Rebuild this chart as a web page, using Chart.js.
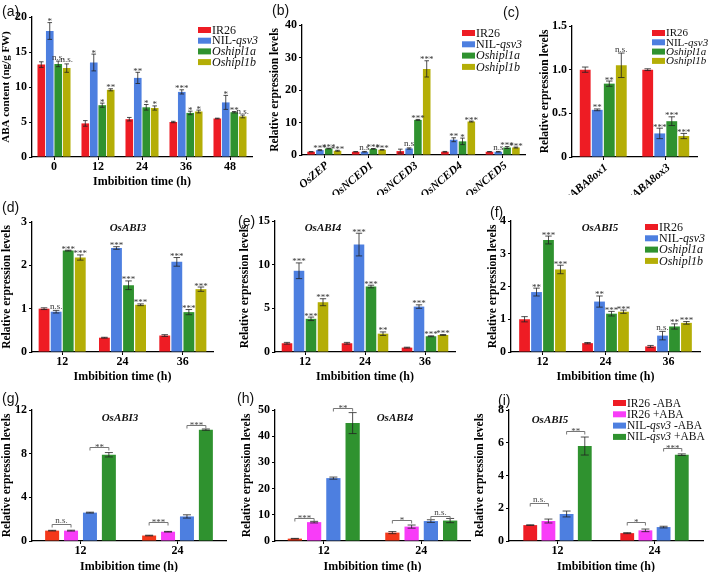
<!DOCTYPE html>
<html>
<head>
<meta charset="utf-8">
<script src="https://cdn.jsdelivr.net/npm/chart.js@4.4.1/dist/chart.umd.min.js"></script>
<style>
  body { margin: 0; background: #fff; }
  #fig { position: relative; width: 709px; height: 572px; overflow: hidden; background: #fff; }
  #fig canvas { position: absolute; left: 0; top: 0; }
  .lab { position: absolute; font: 14px/16px 'Liberation Sans', Arial, sans-serif; color: #111; }
</style>
</head>
<body>
<div id="fig">
  <canvas id="ca" width="709" height="572"></canvas>
  <canvas id="cb" width="709" height="572"></canvas>
  <canvas id="cc" width="709" height="572"></canvas>
  <canvas id="cd" width="709" height="572"></canvas>
  <canvas id="ce" width="709" height="572"></canvas>
  <canvas id="cf" width="709" height="572"></canvas>
  <canvas id="cg" width="709" height="572"></canvas>
  <canvas id="ch" width="709" height="572"></canvas>
  <canvas id="ci" width="709" height="572"></canvas>
  <div class="lab" style="left:2px;top:3px">(a)</div>
  <div class="lab" style="left:272px;top:2px">(b)</div>
  <div class="lab" style="left:503px;top:4px">(c)</div>
  <div class="lab" style="left:2px;top:199px">(d)</div>
  <div class="lab" style="left:238px;top:213px">(e)</div>
  <div class="lab" style="left:490px;top:204px">(f)</div>
  <div class="lab" style="left:2px;top:390px">(g)</div>
  <div class="lab" style="left:237px;top:390px">(h)</div>
  <div class="lab" style="left:498px;top:392px">(i)</div>
</div>
<script>
// ===== Данные =====
// (a) ABA content
const aTimes = ['0', '12', '24', '36', '48'];
const aIR26 = [13.2, 4.8, 5.4, 5.0, 5.5];
const aIR26Err = [0.4, 0.4, 0.25, 0.1, 0.05];
const aNIL = [18.0, 13.5, 11.3, 9.3, 7.8];
const aNILErr = [1.2, 1.2, 0.8, 0.3, 1.0];
const aNILSig = ['*', '*', '**', '***', '*'];
const aH1a = [13.3, 7.4, 7.1, 6.3, 6.4];
const aH1aErr = [0.4, 0.3, 0.4, 0.25, 0.1];
const aH1aSig = ['n.s.', '*', '*', '*', '**'];
const aH1b = [12.7, 9.6, 7.0, 6.5, 5.8];
const aH1bErr = [0.6, 0.15, 0.3, 0.2, 0.2];
const aH1bSig = ['n.s.', '**', '*', '*', 'n.s.'];

// (b) ABA synthesis genes
const bGenes = ['OsZEP', 'OsNCED1', 'OsNCED3', 'OsNCED4', 'OsNCED5'];
const bIR26 = [1.0, 1.0, 1.2, 1.0, 1.0];
const bIR26Err = [0.05, 0.05, 0.6, 0.1, 0.05];
const bNIL = [1.5, 1.0, 2.0, 4.7, 1.0];
const bNILErr = [0.15, 0.1, 0.2, 0.6, 0.1];
const bNILSig = ['***', 'n.s', 'n.s', '**', 'n.s'];
const bH1a = [2.0, 1.9, 10.8, 4.2, 2.3];
const bH1aErr = [0.1, 0.1, 0.15, 1.0, 0.3];
const bH1aSig = ['***', '***', '***', '*', '***'];
const bH1b = [1.3, 1.6, 26.5, 10.3, 2.3];
const bH1bErr = [0.15, 0.1, 2.5, 0.15, 0.15];
const bH1bSig = ['***', '***', '***', '***', '***'];

// (c) ABA catabolism genes
const cGenes = ['OsABA8ox1', 'OsABA8ox3'];
const cIR26 = [1.0, 1.0];
const cIR26Err = [0.03, 0.01];
const cNIL = [0.54, 0.27];
const cNILErr = [0.01, 0.06];
const cNILSig = ['**', '***'];
const cH1a = [0.84, 0.41];
const cH1aErr = [0.03, 0.05];
const cH1aSig = ['**', '***'];
const cH1b = [1.05, 0.24];
const cH1bErr = [0.14, 0.03];
const cH1bSig = ['n.s.', '***'];

// (d)-(f) OsABI3/4/5
const defTimes = ['12', '24', '36'];
const dIR26 = [1.0, 0.33, 0.38];
const dIR26Err = [0.02, 0.01, 0.02];
const dNIL = [0.93, 2.40, 2.08];
const dNILErr = [0.03, 0.03, 0.1];
const dNILSig = ['n.s.', '***', '***'];
const dH1a = [2.34, 1.54, 0.92];
const dH1aErr = [0.01, 0.1, 0.06];
const dH1aSig = ['***', '***', '***'];
const dH1b = [2.18, 1.09, 1.45];
const dH1bErr = [0.06, 0.02, 0.05];
const dH1bSig = ['***', '***', '***'];

const eIR26 = [1.0, 1.0, 0.5];
const eIR26Err = [0.1, 0.1, 0.05];
const eNIL = [9.3, 12.3, 5.2];
const eNILErr = [0.9, 1.3, 0.2];
const eNILSig = ['***', '***', '***'];
const eH1a = [3.8, 7.5, 1.8];
const eH1aErr = [0.2, 0.15, 0.05];
const eH1aSig = ['***', '***', '***'];
const eH1b = [5.7, 2.1, 1.95];
const eH1bErr = [0.4, 0.2, 0.05];
const eH1bSig = ['***', '**', '***'];

const fIR26 = [1.0, 0.27, 0.17];
const fIR26Err = [0.08, 0.02, 0.03];
const fNIL = [1.83, 1.54, 0.50];
const fNILErr = [0.12, 0.17, 0.13];
const fNILSig = ['**', '**', 'n.s.'];
const fH1a = [3.42, 1.17, 0.78];
const fH1aErr = [0.12, 0.07, 0.08];
const fH1aSig = ['***', '***', '**'];
const fH1b = [2.52, 1.23, 0.89];
const fH1bErr = [0.13, 0.05, 0.04];
const fH1bSig = ['***', '***', '***'];

// (g)-(i) обработка ABA
const ghiTimes = ['12', '24'];
const gIR26m = [0.95, 0.5];   const gIR26mErr = [0.03, 0.03];
const gIR26p = [0.95, 0.85];  const gIR26pErr = [0.04, 0.03];
const gNILm = [2.6, 2.25];    const gNILmErr = [0.04, 0.15];
const gNILp = [7.9, 10.2];    const gNILpErr = [0.2, 0.06];
const gBrLevel = [1.6, 8.6, 1.7, 10.6];
const gBrText = ['n.s.', '**', '***', '***'];

const hIR26m = [0.9, 3.2];    const hIR26mErr = [0.1, 0.4];
const hIR26p = [7.2, 5.5];    const hIR26pErr = [0.3, 0.6];
const hNILm = [24.0, 7.6];    const hNILmErr = [0.4, 0.5];
const hNILp = [45.0, 7.8];    const hNILpErr = [4.0, 0.8];
const hBrLevel = [8.8, 50.8, 8.0, 9.6];
const hBrText = ['***', '**', '*', 'n.s.'];

const iIR26m = [0.97, 0.48];  const iIR26mErr = [0.02, 0.03];
const iIR26p = [1.22, 0.65];  const iIR26pErr = [0.12, 0.08];
const iNILm = [1.65, 0.85];   const iNILmErr = [0.18, 0.05];
const iNILp = [5.8, 5.27];    const iNILpErr = [0.55, 0.05];
const iBrLevel = [2.3, 6.7, 1.15, 5.65];
const iBrText = ['n.s.', '**', '*', '***'];

// ===== Стиль =====
const W = 709, H = 572;
const SERIF = "'Liberation Serif', 'Times New Roman', serif";
const RED = '#ee1c24', BLUE = '#4d7fe0', GREEN = '#2f922f', OLIVE = '#b4ae06';
const MAGENTA = '#f83cf8', RED2 = '#f4381a';
const lineLabels = ['IR26', 'NIL-_qsv3_', '_Oshipl1a_', '_Oshipl1b_'];
const abaLabels = ['IR26 -ABA', 'IR26 +ABA', 'NIL-_qsv3_ -ABA', 'NIL-_qsv3_ +ABA'];

function bars(label, data, errors, sig, color) {
    return { label, data, errors, sig: sig || null, backgroundColor: color, borderWidth: 0 };
}

// ===== Плагины =====
// Планки погрешностей и значимость над столбцами
const errorBarPlugin = {
    id: 'errorBars',
    afterDatasetsDraw(chart) {
        const ctx = chart.ctx;
        const y = chart.scales.y;
        chart.data.datasets.forEach((ds, di) => {
            if (!ds.errors) return;
            const meta = chart.getDatasetMeta(di);
            meta.data.forEach((bar, i) => {
                const v = ds.data[i], e = ds.errors[i];
                const yTop = y.getPixelForValue(v + e);
                const yBot = y.getPixelForValue(Math.max(v - e, 0));
                const cap = Math.min(bar.width * 0.3, 4);
                ctx.save();
                ctx.strokeStyle = '#222';
                ctx.lineWidth = 0.8;
                ctx.beginPath();
                ctx.moveTo(bar.x, yTop); ctx.lineTo(bar.x, yBot);
                ctx.moveTo(bar.x - cap, yTop); ctx.lineTo(bar.x + cap, yTop);
                ctx.moveTo(bar.x - cap, yBot); ctx.lineTo(bar.x + cap, yBot);
                ctx.stroke();
                const s = ds.sig && ds.sig[i];
                if (s) {
                    ctx.fillStyle = '#333';
                    ctx.font = '9px ' + SERIF;
                    ctx.textAlign = 'center';
                    ctx.textBaseline = 'alphabetic';
                    ctx.fillText(s, bar.x, s.indexOf('*') >= 0 ? yTop + 1.5 : yTop - 1.5);
                }
                ctx.restore();
            });
        });
    }
};

// Текст с курсивом: части между "_" курсивом
function drawMixed(ctx, text, x, y, size) {
    const parts = text.split('_');
    parts.forEach((p, k) => {
        ctx.font = (k % 2 ? 'italic ' : '') + size + 'px ' + SERIF;
        ctx.fillText(p, x, y);
        x += ctx.measureText(p).width;
    });
}

function legendPlugin(lg) {
    return {
        id: 'figLegend',
        afterDraw(chart) {
            const ctx = chart.ctx;
            ctx.save();
            ctx.textBaseline = 'middle';
            ctx.textAlign = 'left';
            chart.data.datasets.forEach((ds, i) => {
                const yy = lg.y + i * lg.dy;
                ctx.fillStyle = ds.backgroundColor;
                ctx.fillRect(lg.x, yy - 3, 13, 6);
                ctx.fillStyle = '#111';
                drawMixed(ctx, lg.labels[i], lg.x + 14, yy + 0.5, lg.size);
            });
            ctx.restore();
        }
    };
}

function genePlugin(g) {
    return {
        id: 'geneTitle',
        afterDraw(chart) {
            const ctx = chart.ctx;
            ctx.save();
            ctx.fillStyle = '#111';
            ctx.font = 'italic bold 11px ' + SERIF;
            ctx.textAlign = 'center';
            ctx.textBaseline = 'middle';
            ctx.fillText(g.text, g.x, g.y);
            ctx.restore();
        }
    };
}

// Скобки сравнения: пары (0-1) и (2-3) в каждой группе
function bracketPlugin(levels, texts) {
    return {
        id: 'brackets',
        afterDatasetsDraw(chart) {
            const ctx = chart.ctx;
            const y = chart.scales.y;
            const n = chart.data.labels.length;
            ctx.save();
            for (let c = 0; c < n; c++) {
                [[0, 1], [2, 3]].forEach((pair, k) => {
                    const idx = c * 2 + k;
                    const x1 = chart.getDatasetMeta(pair[0]).data[c].x;
                    const x2 = chart.getDatasetMeta(pair[1]).data[c].x;
                    const yy = Math.round(y.getPixelForValue(levels[idx])) + 0.5;
                    ctx.strokeStyle = '#777';
                    ctx.lineWidth = 1;
                    ctx.beginPath();
                    ctx.moveTo(x1, yy + 3); ctx.lineTo(x1, yy); ctx.lineTo(x2, yy); ctx.lineTo(x2, yy + 3);
                    ctx.stroke();
                    const t = texts[idx];
                    ctx.fillStyle = '#444';
                    ctx.font = '9px ' + SERIF;
                    ctx.textAlign = 'center';
                    ctx.textBaseline = 'alphabetic';
                    ctx.fillText(t, (x1 + x2) / 2, t.indexOf('*') >= 0 ? yy + 2 : yy - 1.5);
                });
            }
            ctx.restore();
        }
    };
}

// ===== Построение панели =====
function makePanel(id, p) {
    const extra = [errorBarPlugin];
    if (p.legend) extra.push(legendPlugin(p.legend));
    if (p.gene) extra.push(genePlugin(p.gene));
    if (p.brLevels) extra.push(bracketPlugin(p.brLevels, p.brTexts));

    const tickFont = { family: SERIF, size: 12, weight: 'bold' };
    const xTickFont = p.rotate
        ? { family: SERIF, size: 11.5, weight: 'bold', style: 'italic' }
        : tickFont;

    return new Chart(document.getElementById(id), {
        type: 'bar',
        data: {
            labels: p.labels,
            datasets: p.datasets.map(ds => Object.assign({
                categoryPercentage: p.catPct,
                barPercentage: p.barPct
            }, ds))
        },
        options: {
            responsive: false,
            animation: false,
            events: [],
            layout: {
                padding: { left: p.L - p.yW, right: W - p.R, top: p.T, bottom: H - p.B - p.xH }
            },
            plugins: { legend: { display: false }, tooltip: { enabled: false } },
            scales: {
                x: {
                    offset: true,
                    ticks: {
                        font: xTickFont, color: '#000', padding: p.rotate ? 1 : 0, autoSkip: false,
                        minRotation: p.rotate || 0, maxRotation: p.rotate || 0,
                        labelOffset: p.rotate ? 3 : 0
                    },
                    grid: { offset: false, drawOnChartArea: false, tickLength: 3, color: '#000' },
                    border: { color: '#000', width: 1.3 },
                    title: {
                        display: !!p.xTitle, text: p.xTitle || '', color: '#000', padding: 0,
                        font: { family: SERIF, size: 12, weight: 'bold' }
                    },
                    afterFit: s => { s.height = p.xH; }
                },
                y: {
                    min: 0,
                    max: p.yMax,
                    ticks: {
                        stepSize: p.yStep, font: tickFont, color: '#000', padding: 2,
                        callback: p.yFmt || (v => v)
                    },
                    grid: { drawOnChartArea: false, tickLength: 3, color: '#000' },
                    border: { color: '#000', width: 1.3 },
                    title: {
                        display: true, text: p.yTitle, color: '#000', padding: 0,
                        font: { family: SERIF, size: p.yTitleSize || 11.5, weight: 'bold' }
                    },
                    afterFit: s => { s.width = p.yW; }
                }
            }
        },
        plugins: extra
    });
}

const relTitle = 'Relative erpression levels';
const timeTitle = 'Imbibition time (h)';

// (a)
makePanel('ca', {
    labels: aTimes,
    datasets: [
        bars('IR26', aIR26, aIR26Err, null, RED),
        bars('NIL-qsv3', aNIL, aNILErr, aNILSig, BLUE),
        bars('Oshipl1a', aH1a, aH1aErr, aH1aSig, GREEN),
        bars('Oshipl1b', aH1b, aH1bErr, aH1bSig, OLIVE)
    ],
    L: 32, R: 252, T: 17, B: 157, yW: 32, xH: 32,
    yMax: 20, yStep: 5, yTitle: 'ABA content (ng/g FW)', yTitleSize: 11, xTitle: timeTitle,
    catPct: 0.77, barPct: 0.9,
    legend: { x: 198, y: 30, dy: 10.7, size: 12, labels: lineLabels }
});

// (b)
makePanel('cb', {
    labels: bGenes,
    datasets: [
        bars('IR26', bIR26, bIR26Err, null, RED),
        bars('NIL-qsv3', bNIL, bNILErr, bNILSig, BLUE),
        bars('Oshipl1a', bH1a, bH1aErr, bH1aSig, GREEN),
        bars('Oshipl1b', bH1b, bH1bErr, bH1bSig, OLIVE)
    ],
    L: 302, R: 525, T: 25, B: 155, yW: 34, xH: 40, rotate: 40,
    yMax: 40, yStep: 10, yTitle: relTitle,
    catPct: 0.79, barPct: 0.86,
    legend: { x: 462, y: 33, dy: 11.3, size: 12, labels: lineLabels }
});

// (c)
makePanel('cc', {
    labels: cGenes,
    datasets: [
        bars('IR26', cIR26, cIR26Err, null, RED),
        bars('NIL-qsv3', cNIL, cNILErr, cNILSig, BLUE),
        bars('Oshipl1a', cH1a, cH1aErr, cH1aSig, GREEN),
        bars('Oshipl1b', cH1b, cH1bErr, cH1bSig, OLIVE)
    ],
    L: 572, R: 697, T: 26, B: 157, yW: 34, xH: 38, rotate: 40,
    yMax: 1.5, yStep: 0.5, yTitle: relTitle, yFmt: v => (v === 0 ? '0' : v.toFixed(1)),
    catPct: 0.77, barPct: 0.9,
    legend: { x: 652, y: 33, dy: 9.3, size: 11, labels: lineLabels }
});

// (d)
makePanel('cd', {
    labels: defTimes,
    datasets: [
        bars('IR26', dIR26, dIR26Err, null, RED),
        bars('NIL-qsv3', dNIL, dNILErr, dNILSig, BLUE),
        bars('Oshipl1a', dH1a, dH1aErr, dH1aSig, GREEN),
        bars('Oshipl1b', dH1b, dH1bErr, dH1bSig, OLIVE)
    ],
    L: 32, R: 213, T: 222, B: 352, yW: 32, xH: 32,
    yMax: 3, yStep: 1, yTitle: relTitle, xTitle: timeTitle,
    catPct: 0.8, barPct: 0.9,
    gene: { text: 'OsABI3', x: 128, y: 228 }
});

// (e)
makePanel('ce', {
    labels: defTimes,
    datasets: [
        bars('IR26', eIR26, eIR26Err, null, RED),
        bars('NIL-qsv3', eNIL, eNILErr, eNILSig, BLUE),
        bars('Oshipl1a', eH1a, eH1aErr, eH1aSig, GREEN),
        bars('Oshipl1b', eH1b, eH1bErr, eH1bSig, OLIVE)
    ],
    L: 275, R: 455, T: 221, B: 352, yW: 37, xH: 32,
    yMax: 15, yStep: 5, yTitle: relTitle, xTitle: timeTitle,
    catPct: 0.8, barPct: 0.88,
    gene: { text: 'OsABI4', x: 323, y: 228 }
});

// (f)
makePanel('cf', {
    labels: defTimes,
    datasets: [
        bars('IR26', fIR26, fIR26Err, null, RED),
        bars('NIL-qsv3', fNIL, fNILErr, fNILSig, BLUE),
        bars('Oshipl1a', fH1a, fH1aErr, fH1aSig, GREEN),
        bars('Oshipl1b', fH1b, fH1bErr, fH1bSig, OLIVE)
    ],
    L: 511, R: 700, T: 221, B: 352, yW: 25, xH: 32,
    yMax: 4, yStep: 1, yTitle: relTitle, xTitle: timeTitle,
    catPct: 0.76, barPct: 0.9,
    gene: { text: 'OsABI5', x: 600, y: 228 },
    legend: { x: 645, y: 227, dy: 11.3, size: 12, labels: lineLabels }
});

// (g)
makePanel('cg', {
    labels: ghiTimes,
    datasets: [
        bars('IR26 -ABA', gIR26m, gIR26mErr, null, RED2),
        bars('IR26 +ABA', gIR26p, gIR26pErr, null, MAGENTA),
        bars('NIL-qsv3 -ABA', gNILm, gNILmErr, null, BLUE),
        bars('NIL-qsv3 +ABA', gNILp, gNILpErr, null, GREEN)
    ],
    L: 32, R: 226, T: 410, B: 541, yW: 32, xH: 33,
    yMax: 12, yStep: 4, yTitle: relTitle, xTitle: timeTitle,
    catPct: 0.78, barPct: 0.74,
    gene: { text: 'OsABI3', x: 120, y: 418 },
    brLevels: gBrLevel, brTexts: gBrText
});

// (h)
makePanel('ch', {
    labels: ghiTimes,
    datasets: [
        bars('IR26 -ABA', hIR26m, hIR26mErr, null, RED2),
        bars('IR26 +ABA', hIR26p, hIR26pErr, null, MAGENTA),
        bars('NIL-qsv3 -ABA', hNILm, hNILmErr, null, BLUE),
        bars('NIL-qsv3 +ABA', hNILp, hNILpErr, null, GREEN)
    ],
    L: 275, R: 470, T: 410, B: 541, yW: 35, xH: 33,
    yMax: 50, yStep: 10, yTitle: relTitle, xTitle: timeTitle,
    catPct: 0.79, barPct: 0.74,
    gene: { text: 'OsABI4', x: 395, y: 418 },
    brLevels: hBrLevel, brTexts: hBrText
});

// (i)
makePanel('ci', {
    labels: ghiTimes,
    datasets: [
        bars('IR26 -ABA', iIR26m, iIR26mErr, null, RED),
        bars('IR26 +ABA', iIR26p, iIR26pErr, null, MAGENTA),
        bars('NIL-qsv3 -ABA', iNILm, iNILmErr, null, BLUE),
        bars('NIL-qsv3 +ABA', iNILp, iNILpErr, null, GREEN)
    ],
    L: 509, R: 703, T: 410, B: 541, yW: 36, xH: 33,
    yMax: 8, yStep: 2, yTitle: relTitle, xTitle: timeTitle,
    catPct: 0.75, barPct: 0.76,
    gene: { text: 'OsABI5', x: 550, y: 420 },
    legend: { x: 613, y: 403, dy: 11.3, size: 11.5, labels: abaLabels },
    brLevels: iBrLevel, brTexts: iBrText
});
</script>
</body>
</html>
